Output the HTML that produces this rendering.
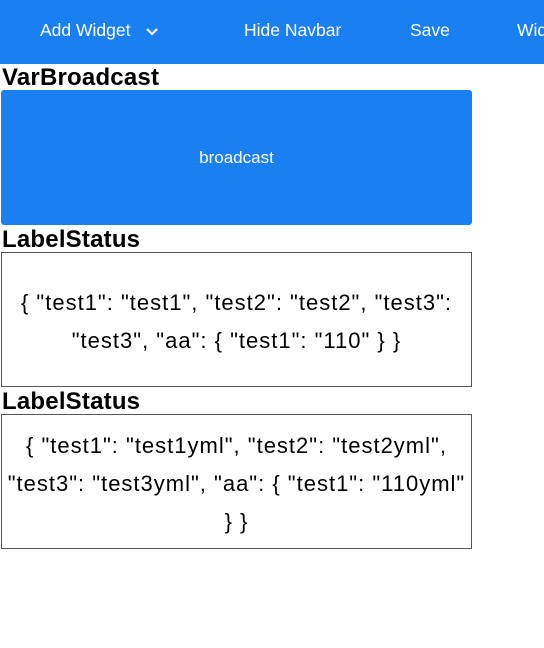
<!DOCTYPE html>
<html><head><style>
body{margin:0;width:544px;height:648px;background:#fff;font-family:"Liberation Sans",Arial,sans-serif;overflow:hidden;position:relative}
.nav{position:absolute;left:0;top:0;width:544px;height:64px;background:#1a7ff0;color:#fff;font-size:17.5px;white-space:nowrap}
.nav span{position:absolute;top:20px}
h3{position:absolute;left:2px;margin:0;font-size:24px;font-weight:bold;color:#000;line-height:24px;letter-spacing:0.2px}
.btn{position:absolute;left:1px;top:90px;width:471px;height:135px;background:#1a7ff0;border-radius:3px;color:#fff;font-size:17px;display:flex;align-items:center;justify-content:center}
.box{position:absolute;left:1px;width:469px;height:129px;padding-top:4px;border:1px solid #555;display:flex;align-items:center;justify-content:center;text-align:center;font-size:22px;line-height:38px;white-space:nowrap;letter-spacing:1px}
</style></head><body>
<div class="nav">
<span style="left:40px">Add Widget</span>
<svg style="position:absolute;left:145px;top:27px" width="14" height="10" viewBox="0 0 14 10"><path d="M2 2 L7 7 L12 2" stroke="#fff" stroke-width="2.2" fill="none"/></svg>
<span style="left:244px">Hide Navbar</span>
<span style="left:410px">Save</span>
<span style="left:517px">Widget</span>
</div>
<h3 style="top:66px">VarBroadcast</h3>
<div class="btn">broadcast</div>
<h3 style="top:228px">LabelStatus</h3>
<div class="box" style="top:252px"><div>{ "test1": "test1", "test2": "test2", "test3":<br>"test3", "aa": { "test1": "110" } }</div></div>
<h3 style="top:390px">LabelStatus</h3>
<div class="box" style="top:414px"><div>{ "test1": "test1yml", "test2": "test2yml",<br>"test3": "test3yml", "aa": { "test1": "110yml"<br>} }</div></div>
</body></html>
